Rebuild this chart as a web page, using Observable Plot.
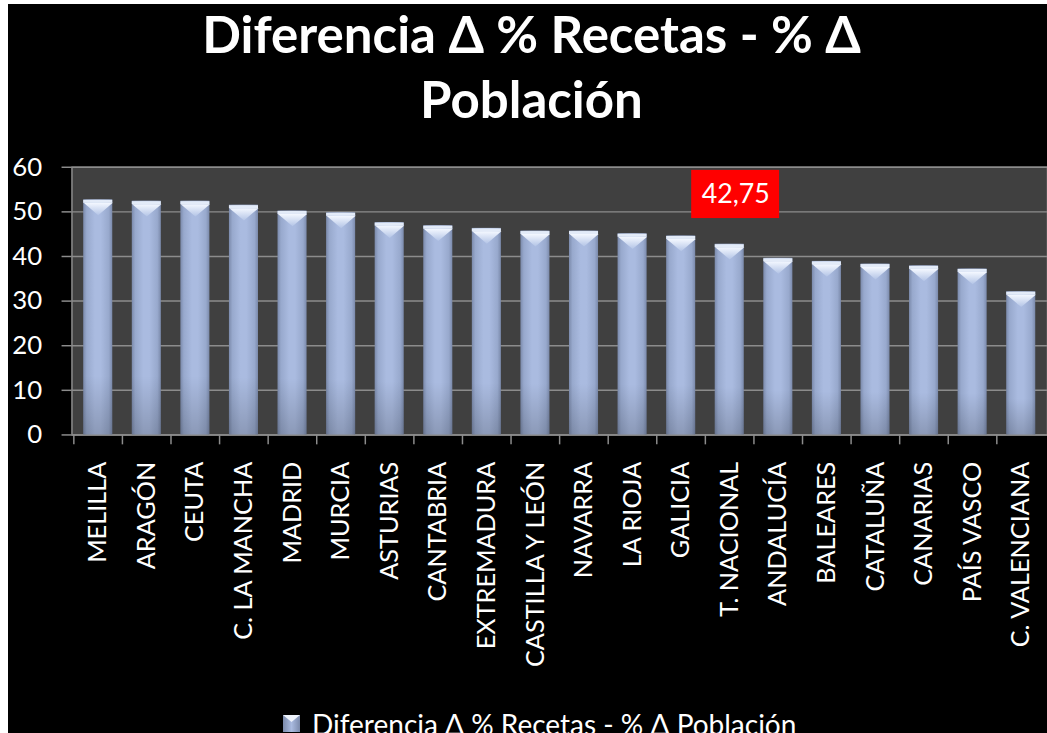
<!DOCTYPE html>
<html><head><meta charset="utf-8">
<script src="https://cdn.jsdelivr.net/npm/d3@7"></script>
<script src="https://cdn.jsdelivr.net/npm/@observablehq/plot@0.6"></script>
<style>
html,body{margin:0;padding:0;background:#fff;overflow:hidden;width:1047px;height:733px}
#chart{position:absolute;left:8px;top:4px;width:1039px;height:729px;background:#000;overflow:hidden;font-family:Lato,sans-serif;color:#fff}
#title{position:absolute;left:0;top:-3px;width:1039px;text-align:center;font-weight:bold;font-size:51px;line-height:65px;margin-left:4px}
#plot{position:absolute;left:0;top:136px}
#legend{position:absolute;left:275px;top:703px;display:flex;align-items:flex-start;font-size:28px;line-height:34px;white-space:nowrap}
#legend svg{margin-right:12px;margin-top:8px}
</style></head>
<body>
<div id="chart">
  <div id="title">Diferencia Δ % Recetas - % Δ<br>Población</div>
  <div id="plot"></div>
  <div id="legend"></div>
</div>
<script>
const categories = ["MELILLA","ARAGÓN","CEUTA","C. LA MANCHA","MADRID","MURCIA","ASTURIAS","CANTABRIA","EXTREMADURA","CASTILLA Y LEÓN","NAVARRA","LA RIOJA","GALICIA","T. NACIONAL","ANDALUCÍA","BALEARES","CATALUÑA","CANARIAS","PAÍS VASCO","C. VALENCIANA"];
const values = [52.7, 52.4, 52.4, 51.5, 50.2, 49.8, 47.6, 46.9, 46.3, 45.7, 45.7, 45.1, 44.6, 42.75, 39.6, 38.9, 38.3, 37.9, 37.2, 32.1];
const yTicks = [0, 10, 20, 30, 40, 50, 60];
const seriesName = "Diferencia Δ % Recetas - % Δ Población";
const highlightCategory = ["T. NACIONAL"];
const highlightLabel = ["42,75"];
const highlightBox = [48.5, 59.3];
const highlightLabelY = [53.9];

const data = categories.map((c, i) => ({region: c, value: values[i]}));

const capSymbol = {
  draw(ctx, size) {
    const r = Math.sqrt(size / Math.PI);
    ctx.moveTo(-r, 0);
    ctx.lineTo(r, 0);
    ctx.lineTo(0, r * 0.85);
    ctx.closePath();
  }
};

const W = 1048, ML = 64;
const step = (W - ML) / categories.length;
const barInset = (step - 29.5) / 2;

const plot = Plot.plot({
  width: W, height: 568,
  marginTop: 27, marginBottom: 271, marginLeft: ML, marginRight: 0,
  style: {background: "transparent", color: "#fff", fontFamily: "Lato, sans-serif"},
  x: {domain: categories, padding: 0, label: null, axis: null},
  y: {domain: [0, 60], label: null, axis: null},
  marks: [
    Plot.frame({fill: "#404040", stroke: "#8c8c8c", strokeWidth: 1.5}),
    Plot.gridY(yTicks, {stroke: "#8c8c8c", strokeOpacity: 1, strokeWidth: 1.5}),
    Plot.barY(data, {x: "region", y: "value", fill: "url(#barGrad)", insetLeft: barInset, insetRight: barInset}),
    Plot.barY(data, {x: "region", y: "value", fill: "url(#barShade)", insetLeft: barInset, insetRight: barInset}),
    Plot.tickY(data, {x: "region", y: "value", stroke: "#e3ebf8", strokeWidth: 3, dy: 1.5, insetLeft: barInset, insetRight: barInset}),
    Plot.dot(data, {x: "region", y: "value", symbol: capSymbol, r: 14.7, fill: "url(#capGrad)", stroke: "none", dy: 3}),
    Plot.axisY(yTicks, {tickSize: 10, tickPadding: 20, stroke: "#8c8c8c", strokeWidth: 1.5, fill: "#fff", fontSize: 26, label: null}),
    Plot.axisX({tickSize: 10, tickFormat: () => "", dx: -step / 2, stroke: "#8c8c8c", strokeWidth: 1.5, label: null}),
    Plot.axisX({tickSize: 0, tickPadding: 27, tickRotate: -90, fill: "#fff", fontSize: 25.5, label: null}),
    Plot.barY(highlightCategory, {x: d => d, y1: highlightBox[0], y2: highlightBox[1], fill: "#ff0000", insetLeft: -13.9, insetRight: -25.8}),
    Plot.text(highlightCategory, {x: d => d, y: highlightLabelY[0], text: (d, i) => highlightLabel[i], fill: "#fff", fontSize: 27, dx: 6})
  ]
});

const defs = d3.select(plot).insert("defs", ":first-child");
const g1 = defs.append("linearGradient").attr("id", "barGrad").attr("x1", 0).attr("x2", 1).attr("y1", 0).attr("y2", 0);
[[0, "#7b8aab"], [0.12, "#98a9cd"], [0.4, "#aabbe0"], [0.6, "#aabbe0"], [0.88, "#98a9cd"], [1, "#7b8aab"]]
  .forEach(([o, c]) => g1.append("stop").attr("offset", o).attr("stop-color", c));
const g2 = defs.append("linearGradient").attr("id", "barShade").attr("x1", 0).attr("x2", 0).attr("y1", 0).attr("y2", 1);
[[0, 0], [0.75, 0], [1, 0.18]].forEach(([o, a]) => g2.append("stop").attr("offset", o).attr("stop-color", "#000").attr("stop-opacity", a));
const g3 = defs.append("linearGradient").attr("id", "capGrad").attr("x1", 0).attr("x2", 0).attr("y1", 0).attr("y2", 1);
[[0, "#f4f8ff"], [1, "#b3c4e6"]].forEach(([o, c]) => g3.append("stop").attr("offset", o).attr("stop-color", c));

document.getElementById("plot").appendChild(plot);

document.getElementById("legend").innerHTML =
  `<svg width="17" height="17" viewBox="0 0 17 17">
     <defs><linearGradient id="lg" x1="0" x2="1"><stop offset="0" stop-color="#7b8aab"/><stop offset="0.5" stop-color="#aabbe0"/><stop offset="1" stop-color="#7b8aab"/></linearGradient></defs>
     <rect width="17" height="17" fill="url(#lg)"/><path d="M0,0H17L8.5,7Z" fill="#eef3fc"/>
   </svg><span>${seriesName}</span>`;
</script>
</body></html>
